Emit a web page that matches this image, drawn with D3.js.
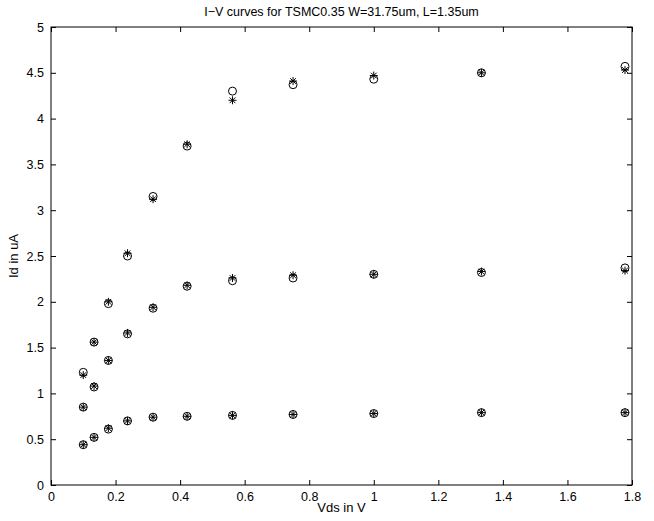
<!DOCTYPE html>
<html><head><meta charset="utf-8">
<script src="https://cdn.jsdelivr.net/npm/d3@7"></script>
<style>
body{margin:0;background:#fff;}
text{font-family:"Liberation Sans",Arial,Helvetica,sans-serif;fill:#000;}
</style></head><body>
<svg id="c" width="654" height="521"></svg>
<script>
const vds = [0.1, 0.1334, 0.1778, 0.2371, 0.3162, 0.4217, 0.5623, 0.7499, 1.0, 1.3335, 1.7783];
// measured (o) and simulated (*) drain currents in uA for three gate voltages
const idHighO = [1.23, 1.56, 1.98, 2.50, 3.15, 3.70, 4.30, 4.37, 4.43, 4.50, 4.57];
const idHighS = [1.20, 1.56, 2.00, 2.53, 3.12, 3.72, 4.20, 4.41, 4.47, 4.50, 4.53];
const idMidO  = [0.85, 1.07, 1.36, 1.65, 1.93, 2.17, 2.23, 2.26, 2.30, 2.32, 2.37];
const idMidS  = [0.85, 1.08, 1.36, 1.66, 1.94, 2.18, 2.26, 2.29, 2.30, 2.33, 2.34];
const idLowO  = [0.44, 0.52, 0.61, 0.70, 0.74, 0.75, 0.76, 0.77, 0.78, 0.79, 0.79];
const idLowS  = [0.44, 0.52, 0.62, 0.70, 0.74, 0.75, 0.76, 0.77, 0.78, 0.79, 0.79];
const xTicks = [0, 0.2, 0.4, 0.6, 0.8, 1, 1.2, 1.4, 1.6, 1.8];
const yTicks = [0, 0.5, 1, 1.5, 2, 2.5, 3, 3.5, 4, 4.5, 5];
const titleText = "I\u2212V curves for TSMC0.35 W=31.75um, L=1.35um";
const xLabel = "Vds in V";
const yLabel = "Id in uA";

const L = 51, R = 632, T = 27, B = 485;
const svg = d3.select("#c");
const x = d3.scaleLinear().domain([0, 1.8]).range([L, R]);
const y = d3.scaleLinear().domain([0, 5]).range([B, T]);

svg.append("rect").attr("x", L).attr("y", T).attr("width", R - L).attr("height", B - T)
  .attr("fill", "none").attr("stroke", "#000").attr("stroke-width", 1);

const fmt = d => String(d);
const tl = 5;
const FS = 12.5;
const gb = svg.append("g").attr("transform", `translate(0,${B})`)
  .call(d3.axisBottom(x).tickValues(xTicks).tickFormat(fmt).tickSizeInner(-tl).tickSizeOuter(0).tickPadding(7));
const gt = svg.append("g").attr("transform", `translate(0,${T})`)
  .call(d3.axisTop(x).tickValues(xTicks).tickFormat("").tickSizeInner(-tl).tickSizeOuter(0));
const gl = svg.append("g").attr("transform", `translate(${L},0)`)
  .call(d3.axisLeft(y).tickValues(yTicks).tickFormat(fmt).tickSizeInner(-tl).tickSizeOuter(0).tickPadding(7));
const gr = svg.append("g").attr("transform", `translate(${R},0)`)
  .call(d3.axisRight(y).tickValues(yTicks).tickFormat("").tickSizeInner(-tl).tickSizeOuter(0));
[gb, gt, gl, gr].forEach(g => {
  g.select(".domain").remove();
  g.selectAll("line").attr("stroke", "#000");
  g.selectAll("text").attr("font-size", FS).attr("font-family", '"Liberation Sans",Arial,sans-serif').attr("fill", "#000");
});

svg.append("text").attr("x", (L + R) / 2).attr("y", 16).attr("text-anchor", "middle")
  .attr("font-size", FS).text(titleText);
svg.append("text").attr("x", (L + R) / 2).attr("y", 512).attr("text-anchor", "middle")
  .attr("font-size", 13).text(xLabel);
svg.append("text").attr("transform", `translate(18,${(T + B) / 2}) rotate(-90)`).attr("text-anchor", "middle")
  .attr("font-size", 13).text(yLabel);

const circles = [idHighO, idMidO, idLowO];
const stars = [idHighS, idMidS, idLowS];
const g = svg.append("g");
circles.forEach(s => {
  g.selectAll(null).data(s.map((v, i) => [vds[i], v])).enter().append("circle")
    .attr("cx", d => x(d[0])).attr("cy", d => y(d[1])).attr("r", 4)
    .attr("fill", "none").attr("stroke", "#000").attr("stroke-width", 1);
});
const starPath = (cx, cy) => {
  const r = 4, r2 = r * 0.71;
  return `M${cx - r},${cy}L${cx + r},${cy}M${cx},${cy - r}L${cx},${cy + r}` +
    `M${cx - r2},${cy - r2}L${cx + r2},${cy + r2}M${cx - r2},${cy + r2}L${cx + r2},${cy - r2}`;
};
stars.forEach(s => {
  g.selectAll(null).data(s.map((v, i) => [vds[i], v])).enter().append("path")
    .attr("d", d => starPath(x(d[0]), y(d[1])))
    .attr("fill", "none").attr("stroke", "#000").attr("stroke-width", 1);
});
</script></body></html>
